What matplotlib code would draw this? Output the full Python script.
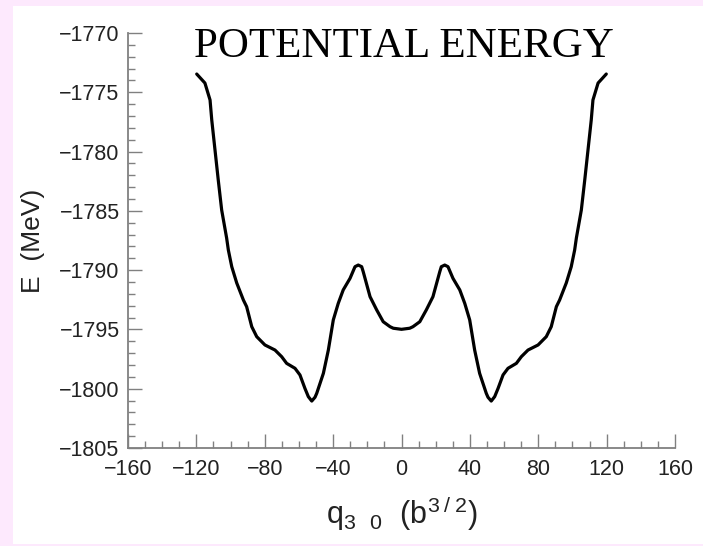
import matplotlib
matplotlib.use("Agg")
import matplotlib.pyplot as plt
from matplotlib.patches import Rectangle
from matplotlib.ticker import MultipleLocator

# Potential energy curve E(q30)
q30 = [-119.8, -115.0, -112.0, -111.0, -109.1, -107.2, -105.2, -102.3, -101.3,
       -99.3, -96.4, -92.5, -90.6, -87.6, -84.7, -79.9, -74.0, -70.1, -67.2,
       -62.3, -59.4, -56.5, -54.5, -52.5, -50.6, -49.6, -45.7, -42.8, -39.9,
       -37.0, -34.1, -30.1, -27.2, -25.3, -23.3, -22.4, -18.4, -14.5, -10.7,
       -6.7, -4.8, 0.0,
       4.8, 6.7, 10.7, 14.5, 18.4, 22.4, 23.3, 25.3, 27.2, 30.1, 34.1, 37.0,
       39.9, 42.8, 45.7, 49.6, 50.6, 52.5, 54.5, 56.5, 59.4, 62.3, 67.2, 70.1,
       74.0, 79.9, 84.7, 87.6, 90.6, 92.5, 96.4, 99.3, 101.3, 102.3, 105.2,
       107.2, 109.1, 111.0, 112.0, 115.0, 119.8]
energy = [-1773.46, -1774.22, -1775.65, -1777.34, -1779.87, -1782.40, -1784.93,
          -1787.29, -1788.30, -1789.71, -1791.08, -1792.52, -1793.08, -1794.77,
          -1795.61, -1796.31, -1796.74, -1797.30, -1797.86, -1798.28, -1798.84,
          -1799.97, -1800.67, -1801.04, -1800.72, -1800.39, -1798.70, -1796.74,
          -1794.20, -1792.80, -1791.67, -1790.69, -1789.71, -1789.57, -1789.71,
          -1790.13, -1792.24, -1793.36, -1794.35, -1794.77, -1794.90, -1794.99,
          -1794.90, -1794.77, -1794.35, -1793.36, -1792.24, -1790.13, -1789.71,
          -1789.57, -1789.71, -1790.69, -1791.67, -1792.80, -1794.20, -1796.74,
          -1798.70, -1800.39, -1800.72, -1801.04, -1800.67, -1799.97, -1798.84,
          -1798.28, -1797.86, -1797.30, -1796.74, -1796.31, -1795.61, -1794.77,
          -1793.08, -1792.52, -1791.08, -1789.71, -1788.30, -1787.29, -1784.93,
          -1782.40, -1779.87, -1777.34, -1775.65, -1774.22, -1773.46]

x_ticks = [-160, -120, -80, -40, 0, 40, 80, 120, 160]
y_ticks = [-1805, -1800, -1795, -1790, -1785, -1780, -1775, -1770]

W, H = 703, 546
plt.rcParams["font.family"] = ["Liberation Sans", "DejaVu Sans"]
plt.rcParams["mathtext.fontset"] = "custom"
plt.rcParams["mathtext.rm"] = "Liberation Sans"
plt.rcParams["mathtext.it"] = "Liberation Sans"

fig = plt.figure(figsize=(W / 100, H / 100), dpi=100, facecolor="#fde9fd")
fig.patches.append(Rectangle((13 / W, 2 / H), 690 / W, 538 / H,
                             transform=fig.transFigure, facecolor="white",
                             edgecolor="none", zorder=-10))

ax = fig.add_axes([128 / W, 1 - 448 / H, 547 / W, 415 / H])
ax.set_zorder(1)
ax.set_facecolor("white")
ax.plot(q30, energy, color="black", lw=2.3, solid_capstyle="round",
        solid_joinstyle="round")

ax.set_xlim(-160, 160)
ax.set_ylim(-1805, -1770)
ax.set_xticks(x_ticks)
ax.set_yticks(y_ticks)
ax.xaxis.set_minor_locator(MultipleLocator(10))
ax.yaxis.set_minor_locator(MultipleLocator(1))

gray = "#808080"
for side in ("top", "right"):
    ax.spines[side].set_visible(False)
for side in ("left", "bottom"):
    ax.spines[side].set_color(gray)
    ax.spines[side].set_linewidth(1.3)

ax.tick_params(which="both", direction="in", color=gray, width=1.0,
               labelcolor="#222222", labelsize=15.5)
ax.tick_params(which="major", length=10)
ax.tick_params(which="minor", length=5)
ax.tick_params(axis="y", pad=6)
ax.tick_params(axis="x", pad=8)

ax.set_xlabel(r"q$_{3\;\;\;0}$  (b$^{3\;/\;2}$)", fontsize=22, color="#222222",
              labelpad=10)
ax.set_ylabel("E  (MeV)", fontsize=19, color="#222222", labelpad=10)

ax.text(0.505, 1.014, "POTENTIAL ENERGY", transform=ax.transAxes,
        ha="center", va="top", fontsize=31, family="Liberation Serif",
        color="black")

fig.savefig("out.png", dpi=100, facecolor=fig.get_facecolor())
